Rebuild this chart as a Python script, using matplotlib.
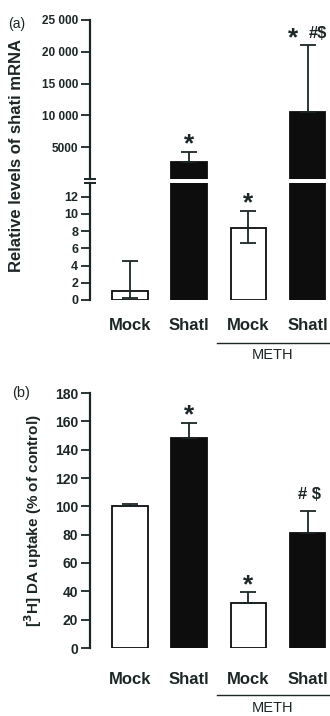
import matplotlib
matplotlib.use('Agg')
import matplotlib.pyplot as plt
import matplotlib.transforms as mtransforms
from matplotlib.lines import Line2D

plt.rcParams['font.family'] = ['Liberation Sans', 'DejaVu Sans']
plt.rcParams['font.weight'] = 'bold'

INK = '#1c2626'

groups = ['Mock', 'Shatl', 'Mock', 'Shatl']
filled = [False, True, False, True]

# (a) relative shati mRNA
mrna = [1.0, 2700, 8.4, 10600]
mrna_err_lo = [0.8, 0, 1.8, 0]
mrna_err_hi = [3.5, 1500, 1.9, 10500]
mrna_star = [False, True, True, True]
mrna_extra = ['', '', '', '#$']

# (b) [3H] DA uptake
uptake = [100, 148, 32, 81]
uptake_err = [2, 11, 7.5, 15.5]
uptake_star = [False, True, True, False]
uptake_extra = ['', '', '', '# $']

W, H = 330, 716
fig = plt.figure(figsize=(W / 100, H / 100), dpi=100)
PT = 0.72  # points per pixel at 100 dpi
STAR_PT = 19


def box(left, top, right, bottom):
    return [left / W, 1 - bottom / H, (right - left) / W, (bottom - top) / H]


XLIM = (-0.676, 3.378)
BAR_W = 0.6
x = list(range(len(groups)))


def style(ax, size):
    for s in ('top', 'right', 'bottom'):
        ax.spines[s].set_visible(False)
    ax.spines['left'].set_linewidth(1.6)
    ax.spines['left'].set_color(INK)
    ax.tick_params(axis='y', direction='out', length=6.5, width=1.3,
                   colors=INK, labelsize=size, pad=2)
    ax.set_xlim(*XLIM)


def bars(ax, vals, lo, hi, idx):
    for i in idx:
        ax.bar(x[i], vals[i], BAR_W, color='#0d0d0d' if filled[i] else 'white',
               edgecolor='#0d0d0d', linewidth=1.3, zorder=2)
        ax.errorbar(x[i], vals[i], yerr=[[lo[i]], [hi[i]]], fmt='none',
                    ecolor=INK, elinewidth=1.3, capsize=6, capthick=1.3, zorder=3)


def star(ax, i, top, dx, dy):
    # dy: pixels from the cap to the centre of the asterisk glyph
    base = dy - 0.45 * STAR_PT / PT
    ax.annotate('*', (x[i], top), xytext=(dx * PT, base * PT),
                textcoords='offset points', ha='center', va='baseline',
                fontsize=STAR_PT, color=INK, annotation_clip=False)


def extra(ax, i, top, txt, dx, dy):
    ax.annotate(txt, (x[i], top), xytext=(dx * PT, dy * PT),
                textcoords='offset points', ha='center', va='center',
                fontsize=12, color=INK, annotation_clip=False)


# ---- panel (a): broken axis ----
ax_hi = fig.add_axes(box(90, 20, 330, 179))
ax_lo = fig.add_axes(box(90, 183, 330, 300))
ax_hi.set_ylim(0, 25000)
ax_lo.set_ylim(0, 13.6)
style(ax_hi, 8.5)
style(ax_lo, 9)
ax_hi.set_yticks([5000, 10000, 15000, 20000, 25000],
                 ['5000', '10 000', '15 000', '20 000', '25 000'])
ax_lo.set_yticks(range(0, 13, 2))
ax_hi.set_xticks([])
ax_lo.set_xticks(x, groups)
ax_lo.tick_params(axis='x', length=0, pad=13, labelsize=12, colors=INK)

big = [i for i in x if mrna[i] > 13.6]
bars(ax_hi, mrna, mrna_err_lo, mrna_err_hi, big)
bars(ax_lo, mrna, mrna_err_lo, mrna_err_hi, x)

# break marks on the axis
for ax, yy in ((ax_hi, 0), (ax_lo, 1)):
    ax.plot([0], [yy], marker='_', ms=8, mew=1.4, color=INK,
            transform=ax.transAxes, clip_on=False)

for i in x:
    top = mrna[i] + mrna_err_hi[i]
    ax = ax_hi if i in big else ax_lo
    if mrna_star[i]:
        if mrna_extra[i]:
            star(ax, i, top, -15, 11)
            extra(ax, i, top, mrna_extra[i], 10, 11)
        else:
            star(ax, i, top, 0, 13)

fig.text(8 / W, 1 - 24 / H, '(a)', fontsize=10, color=INK,
         fontweight='normal', va='center', ha='left')
fig.text(17 / W, 1 - 156 / H, 'Relative levels of shati mRNA', rotation=90,
         fontsize=12, color=INK, ha='center', va='center')

# ---- panel (b) ----
ax_b = fig.add_axes(box(90, 393, 330, 648))
ax_b.set_ylim(0, 180)
style(ax_b, 10)
ax_b.set_yticks(range(0, 181, 20))
ax_b.set_xticks(x, groups)
ax_b.tick_params(axis='x', length=0, pad=17, labelsize=12, colors=INK)
bars(ax_b, uptake, [0] * 4, uptake_err, x)
for i in x:
    top = uptake[i] + uptake_err[i]
    if uptake_star[i]:
        star(ax_b, i, top, 0, 12)
    if uptake_extra[i]:
        extra(ax_b, i, top, uptake_extra[i], 2, 17)

fig.text(12 / W, 1 - 393 / H, '(b)', fontsize=10.5, color=INK,
         fontweight='normal', va='center', ha='left')
fig.text(33 / W, 1 - 521 / H, '[$^{3}$H] DA uptake (% of control)',
         rotation=90, fontsize=11, color=INK, ha='center', va='center')

# METH group brackets
for ax, line_y, text_y in ((ax_lo, 343, 355), (ax_b, 695, 708)):
    tr = mtransforms.blended_transform_factory(ax.transData, fig.transFigure)
    fig.add_artist(Line2D([1.47, 3.5], [1 - line_y / H] * 2, transform=tr,
                          color=INK, lw=1.0))
    fig.text(2.4, 1 - text_y / H, 'METH', transform=tr, ha='center',
             va='center', fontsize=10.5, fontweight='normal', color=INK)

fig.savefig('out.png', dpi=100, facecolor='white')
